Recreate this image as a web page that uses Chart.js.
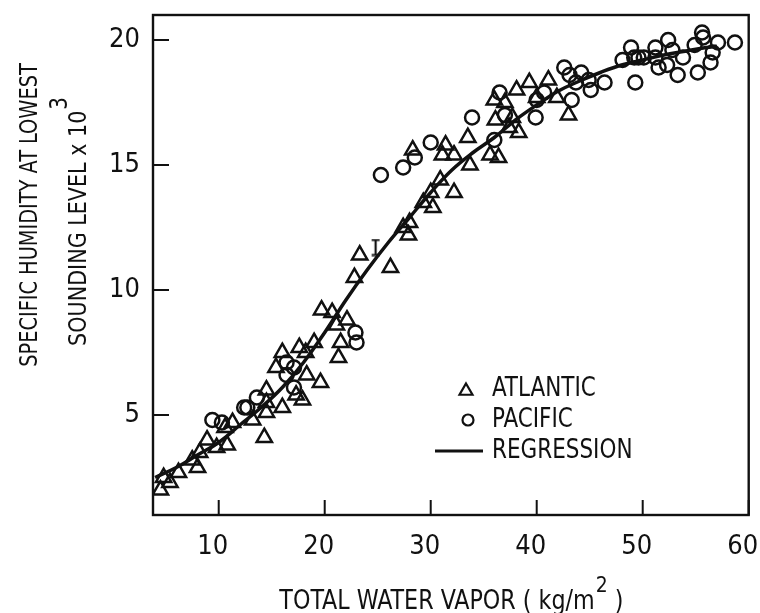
<!DOCTYPE html>
<html><head><meta charset="utf-8">
<script src="https://cdn.jsdelivr.net/npm/chart.js@4"></script>
<style>html,body{margin:0;padding:0;background:#fff}</style>
</head><body>
<canvas id="c" width="760" height="613"></canvas>
<script>
// ---- data ----
const atlanticX = [4.5,4.8,5.4,6.2,7.5,8.0,8.2,8.9,9.8,10.8,10.6,11.3,13.2,14.3,14.5,14.5,14.5,16.0,15.4,16.0,17.6,18.2,19.0,18.3,19.6,17.3,17.9,19.7,20.7,21.1,22.1,21.5,21.3,22.8,23.3,26.2,27.4,27.9,28.0,29.3,30.2,30.0,30.9,32.2,31.1,32.2,28.3,31.4,33.5,33.7,35.6,36.4,36.0,37.0,38.1,36.1,37.4,38.3,37.7,39.3,41.1,41.9,40.0,43.0];
const atlanticY = [2.0,2.5,2.3,2.7,3.2,2.9,3.5,4.0,3.7,3.8,4.5,4.7,4.8,4.1,5.1,5.5,6.0,5.3,6.9,7.5,7.7,7.5,7.9,6.6,6.3,5.8,5.6,9.2,9.1,8.6,8.8,7.9,7.3,10.5,11.4,10.9,12.5,12.2,12.7,13.5,13.3,13.9,14.4,13.9,15.4,15.4,15.6,15.8,16.1,15.0,15.4,15.3,17.6,17.5,18.0,16.8,16.5,16.3,16.9,18.3,18.4,17.7,17.7,17.0];
const pacificX = [9.4,10.3,12.4,12.7,13.6,16.4,17.1,16.4,17.1,22.9,23.0,25.3,27.4,28.5,30.0,33.9,36.0,36.5,37.0,39.9,40.0,40.7,43.3,42.6,43.1,43.7,44.2,44.9,45.1,46.4,48.1,48.9,49.2,49.3,49.6,50.1,51.2,51.2,51.5,52.3,52.4,52.8,53.3,53.8,54.9,55.2,55.6,55.7,56.4,56.6,57.1,58.7];
const pacificY = [4.8,4.7,5.3,5.3,5.7,7.1,6.9,6.6,6.1,8.3,7.9,14.6,14.9,15.3,15.9,16.9,16.0,17.9,17.0,16.9,17.6,17.9,17.6,18.9,18.6,18.3,18.7,18.4,18.0,18.3,19.2,19.7,19.3,18.3,19.3,19.3,19.7,19.3,18.9,19.0,20.0,19.6,18.6,19.3,19.8,18.7,20.3,20.1,19.1,19.5,19.9,19.9];
const regressionX = [4,6,8,10,12,14,16,18,20,22,24,26,28,30,32,34,36,38,40,42,44,46,48,50,52,54,56,57];
const regressionY = [2.5,2.9,3.4,3.9,4.6,5.3,6.1,7.1,8.3,9.6,10.8,11.9,12.9,13.9,14.8,15.5,16.1,16.8,17.4,17.95,18.35,18.7,19.0,19.2,19.4,19.55,19.7,19.75];
const markX = [24.8];
const markY = [11.7];
const xTicks = [10,20,30,40,50,60];
const yTicks = [5,10,15,20];
const legendLabels = ['ATLANTIC','PACIFIC','REGRESSION'];

const FONT = "'DejaVu Sans Condensed','Liberation Sans Narrow','Roboto Condensed','DejaVu Sans',sans-serif";
const INK = '#111';

const toPts = (xs, ys) => xs.map((x, i) => ({x, y: ys[i]}));

// "I" shaped marker
const iMark = document.createElement('canvas');
iMark.width = 12; iMark.height = 18;
(function(){const g = iMark.getContext('2d'); g.strokeStyle = INK; g.lineWidth = 2.2;
  g.beginPath(); g.moveTo(6,1); g.lineTo(6,17); g.moveTo(2,1.5); g.lineTo(10,1.5); g.moveTo(2,16.5); g.lineTo(10,16.5); g.stroke();})();

// draws text horizontally compressed by factor k
function squeezeText(ctx, text, x, y, k) {
  ctx.save(); ctx.translate(x, y); ctx.scale(k, 1); ctx.fillText(text, 0, 0); ctx.restore();
}

const framePlugin = {
  id: 'frame',
  afterDraw(chart) {
    const {ctx, chartArea: a, scales: {x, y}} = chart;
    ctx.save();
    ctx.strokeStyle = INK; ctx.lineWidth = 2.4;
    ctx.strokeRect(a.left, a.top, a.right - a.left, a.bottom - a.top);
    ctx.lineWidth = 2;
    ctx.beginPath();
    xTicks.forEach(v => { const p = x.getPixelForValue(v); ctx.moveTo(p, a.bottom); ctx.lineTo(p, a.bottom - 15); });
    yTicks.forEach(v => { const p = y.getPixelForValue(v); ctx.moveTo(a.left, p); ctx.lineTo(a.left + 16, p); });
    ctx.stroke();

    ctx.fillStyle = INK;
    const K = 0.95;
    // x title
    const base = 'TOTAL WATER VAPOR ( kg/m', tail = ' )', sup = '2';
    ctx.font = '26px ' + FONT;
    const wb = ctx.measureText(base).width * K, wt = ctx.measureText(tail).width * K;
    ctx.font = '22px ' + FONT;
    const ws = ctx.measureText(sup).width * K;
    const total = wb + ws + wt;
    let sx = (a.left + a.right) / 2 - total / 2;
    const by = 609;
    ctx.textBaseline = 'alphabetic'; ctx.textAlign = 'left';
    ctx.font = '26px ' + FONT; squeezeText(ctx, base, sx, by, K);
    ctx.font = '22px ' + FONT; squeezeText(ctx, sup, sx + wb + 1, by - 17, K);
    ctx.font = '26px ' + FONT; squeezeText(ctx, tail, sx + wb + ws + 1, by, K);

    // y title (rotated)
    ctx.save();
    ctx.rotate(-Math.PI / 2);
    ctx.textAlign = 'left'; ctx.textBaseline = 'middle';
    ctx.font = '25px ' + FONT;
    const l1 = 'SPECIFIC HUMIDITY AT LOWEST';
    const w1 = ctx.measureText(l1).width * 0.86;
    squeezeText(ctx, l1, -215 - w1 / 2, 30, 0.86);
    const k2 = 0.92;
    const l2 = 'SOUNDING LEVEL x 10', s2 = '3';
    const w2 = ctx.measureText(l2).width * k2;
    ctx.font = '24px ' + FONT;
    const ws2 = ctx.measureText(s2).width * k2;
    const cy = -222;
    const start = cy - (w2 + ws2) / 2;
    ctx.font = '25px ' + FONT; squeezeText(ctx, l2, start, 79, k2);
    ctx.font = '24px ' + FONT; squeezeText(ctx, s2, start + w2 + 1, 61, k2);
    ctx.restore();

    // legend
    ctx.lineWidth = 2.2;
    ctx.beginPath();
    const tx = 466, ty = 391, r = 7.5;
    ctx.moveTo(tx, ty - r); ctx.lineTo(tx + r * 0.866, ty + r * 0.5); ctx.lineTo(tx - r * 0.866, ty + r * 0.5); ctx.closePath();
    ctx.stroke();
    ctx.beginPath(); ctx.arc(468, 420, 5.5, 0, Math.PI * 2); ctx.stroke();
    ctx.lineWidth = 3.2;
    ctx.beginPath(); ctx.moveTo(435, 451); ctx.lineTo(483, 451); ctx.stroke();
    ctx.font = '26px ' + FONT; ctx.textAlign = 'left'; ctx.textBaseline = 'middle';
    squeezeText(ctx, legendLabels[0], 492, 389, 0.92);
    squeezeText(ctx, legendLabels[1], 492, 420, 0.92);
    squeezeText(ctx, legendLabels[2], 492, 451, 0.92);
    ctx.restore();
  }
};

new Chart(document.getElementById('c'), {
  type: 'scatter',
  data: {
    datasets: [
      { label: legendLabels[2], type: 'line', data: toPts(regressionX, regressionY), borderColor: INK, borderWidth: 3.5, pointRadius: 0, fill: false, tension: 0.4 },
      { label: legendLabels[0], data: toPts(atlanticX, atlanticY), pointStyle: 'triangle', pointRadius: 8.8, borderColor: INK, backgroundColor: 'rgba(0,0,0,0)', borderWidth: 2.5 },
      { label: legendLabels[1], data: toPts(pacificX, pacificY), pointStyle: 'circle', pointRadius: 7, borderColor: INK, backgroundColor: 'rgba(0,0,0,0)', borderWidth: 2.5 },
      { label: 'mark', data: toPts(markX, markY), pointStyle: iMark, pointRadius: 6 }
    ]
  },
  options: {
    responsive: false,
    animation: false,
    layout: { padding: { left: 0, right: 8, top: 15, bottom: 0 } },
    plugins: { legend: { display: false }, tooltip: { enabled: false } },
    scales: {
      x: {
        type: 'linear', min: 3.8, max: 60,
        afterBuildTicks: s => { s.ticks = xTicks.map(v => ({value: v})); },
        afterFit: s => { s.height = 98; s.paddingLeft = 0; s.paddingRight = 0; },
        grid: { display: false, drawTicks: false },
        border: { display: false },
        ticks: { color: INK, font: { family: FONT, size: 27 }, padding: 16, labelOffset: -6, maxRotation: 0, autoSkip: false }
      },
      y: {
        type: 'linear', min: 1, max: 21,
        afterBuildTicks: s => { s.ticks = yTicks.map(v => ({value: v})); },
        afterFit: s => { s.width = 153; s.paddingTop = 0; s.paddingBottom = 0; },
        grid: { display: false, drawTicks: false },
        border: { display: false },
        ticks: { color: INK, font: { family: FONT, size: 27 }, padding: 13, autoSkip: false }
      }
    }
  },
  plugins: [framePlugin]
});
</script>
</body></html>
